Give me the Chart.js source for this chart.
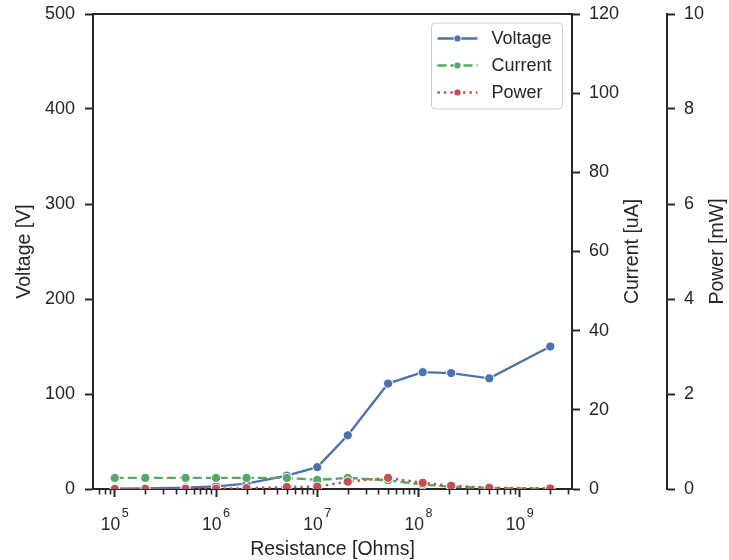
<!DOCTYPE html>
<html lang="en">
<head>
<meta charset="UTF-8">
<title>Voltage, current and power vs resistance</title>
<script src="https://cdn.jsdelivr.net/npm/chart.js"></script>
<style>
  html, body { margin: 0; padding: 0; background: #fff; }
</style>
</head>
<body>
<canvas id="myChart" width="729" height="560"></canvas>
<script>
    // values
    const resistance = [1e5, 2e5, 5e5, 1e6, 2e6, 5e6, 1e7, 2e7, 5e7, 1.1e8, 2.1e8, 5e8, 2e9];
    const voltage = [0.28, 0.56, 1.4, 2.8, 5.6, 14, 23, 56.5, 111, 123, 122, 116.5, 150];
    const current = [2.8, 2.8, 2.8, 2.8, 2.8, 2.8, 2.3, 2.8, 2.2, 1.1, 0.58, 0.23, 0.075];
    const power = [0.001, 0.002, 0.004, 0.008, 0.016, 0.04, 0.05, 0.155, 0.235, 0.13, 0.068, 0.027, 0.011];

    const xMajorTicks = [1e5, 1e6, 1e7, 1e8, 1e9];
    const xTickExponents = ['5', '6', '7', '8', '9'];
    const seriesNames = ['Voltage', 'Current', 'Power'];
    const axisTitles = ['Resistance [Ohms]', 'Voltage [V]', 'Current [uA]', 'Power [mW]'];

    const ink = '#262626';
    const colors = ['#4c72b0', '#55a868', '#c44e52'];
    const dashes = [[], [9, 4], [2.4, 4]];
    const family = '"Liberation Sans", Arial, sans-serif';
    const tickFont = { family: family, size: 18, lineHeight: 1.2 };
    const labelFont = { family: family, size: 19.5, lineHeight: 1.1 };

    function series(i, values, axis, order) {
        return {
            label: seriesNames[i],
            data: resistance.map((r, k) => ({ x: r, y: values[k] })),
            yAxisID: axis,
            order: order,
            borderColor: colors[i],
            backgroundColor: colors[i],
            borderWidth: 2.4,
            borderDash: dashes[i],
            pointRadius: 4.6,
            pointHoverRadius: 4.6,
            pointBorderColor: '#ffffff',
            pointBorderWidth: 1,
            pointBackgroundColor: colors[i],
            tension: 0
        };
    }

    function yAxis(position, min, max, step, width, weight) {
        return {
            type: 'linear',
            position: position,
            min: min,
            max: max,
            weight: weight,
            ticks: { stepSize: step, color: ink, font: tickFont, padding: position === 'left' ? 10 : 9 },
            grid: { drawOnChartArea: false, drawTicks: true, tickLength: 8, tickWidth: 2, tickColor: ink },
            border: { display: true, color: ink, width: 2 },
            afterFit: s => { s.width = width; s.paddingTop = 0; s.paddingBottom = 0; }
        };
    }

    // minor log ticks, 10^n superscript labels, top spine, right titles and legend
    const decorations = {
        id: 'decorations',
        afterDraw(chart) {
            const { ctx, chartArea: area, scales: { x } } = chart;
            ctx.save();
            ctx.strokeStyle = ink;

            // top spine
            ctx.lineWidth = 2;
            ctx.beginPath();
            ctx.moveTo(area.left - 1, area.top);
            ctx.lineTo(area.right + 1, area.top);
            ctx.stroke();

            // minor ticks
            ctx.lineWidth = 1.6;
            for (let e = 4; e <= 9; e++) {
                for (let m = 2; m <= 9; m++) {
                    const v = m * Math.pow(10, e);
                    if (v < x.min || v > x.max) continue;
                    const px = Math.round(x.getPixelForValue(v)) + 0.5;
                    ctx.beginPath();
                    ctx.moveTo(px, area.bottom);
                    ctx.lineTo(px, area.bottom + 5.5);
                    ctx.stroke();
                }
            }

            // 10^n labels
            ctx.fillStyle = ink;
            ctx.textBaseline = 'alphabetic';
            ctx.textAlign = 'left';
            const baseFont = '17.5px ' + family;
            const expFont = '12.5px ' + family;
            xMajorTicks.forEach((v, i) => {
                const px = x.getPixelForValue(v);
                ctx.font = baseFont;
                const wb = ctx.measureText('10').width;
                ctx.font = expFont;
                const we = ctx.measureText(xTickExponents[i]).width;
                const left = px - (wb + we + 1.5) / 2;
                ctx.font = baseFont;
                ctx.fillText('10', left, area.bottom + 40.5);
                ctx.font = expFont;
                ctx.fillText(xTickExponents[i], left + wb + 1.5, area.bottom + 28);
            });

            // right-hand axis titles, reading bottom to top
            ctx.font = labelFont.size + 'px ' + family;
            ctx.textAlign = 'center';
            ctx.textBaseline = 'middle';
            const midY = (area.top + area.bottom) / 2;
            [[chart.scales.yCur.right - 34, axisTitles[2]], [chart.scales.yPow.right - 11, axisTitles[3]]].forEach(([tx, text]) => {
                ctx.save();
                ctx.translate(tx, midY);
                ctx.rotate(-Math.PI / 2);
                ctx.fillText(text, 0, 0);
                ctx.restore();
            });

            // legend box
            const bx = area.right - 140.5, by = area.top + 9, bw = 131, bh = 86;
            ctx.beginPath();
            ctx.roundRect(bx, by, bw, bh, 4);
            ctx.fillStyle = 'rgba(255,255,255,0.8)';
            ctx.fill();
            ctx.strokeStyle = '#cccccc';
            ctx.lineWidth = 1;
            ctx.stroke();

            ctx.font = tickFont.size + 'px ' + family;
            ctx.textAlign = 'left';
            seriesNames.forEach((name, i) => {
                const ly = by + 15.5 + i * 27;
                const lx0 = bx + 6, lx1 = bx + 46;
                ctx.strokeStyle = colors[i];
                ctx.lineWidth = 2.4;
                ctx.setLineDash(dashes[i]);
                ctx.beginPath();
                ctx.moveTo(lx0, ly);
                ctx.lineTo(lx1, ly);
                ctx.stroke();
                ctx.setLineDash([]);
                ctx.beginPath();
                ctx.arc((lx0 + lx1) / 2, ly, 3.6, 0, Math.PI * 2);
                ctx.fillStyle = colors[i];
                ctx.fill();
                ctx.strokeStyle = '#ffffff';
                ctx.lineWidth = 0.8;
                ctx.stroke();
                ctx.fillStyle = ink;
                ctx.fillText(name, bx + 60, ly + 1);
            });
            ctx.restore();
        }
    };

    const ctx = document.getElementById('myChart').getContext('2d');
    new Chart(ctx, {
        type: 'line',
        data: {
            datasets: [
                series(0, voltage, 'y', 3),
                series(1, current, 'yCur', 2),
                series(2, power, 'yPow', 1)
            ]
        },
        options: {
            responsive: false,
            animation: false,
            layout: { padding: { top: 14, left: 0, right: 0, bottom: 0 } },
            plugins: { legend: { display: false }, tooltip: { enabled: false } },
            scales: {
                x: {
                    type: 'logarithmic',
                    position: 'bottom',
                    min: 6.09e4,
                    max: 3.28e9,
                    afterBuildTicks: s => { s.ticks = xMajorTicks.map(v => ({ value: v, major: true })); },
                    ticks: { display: false },
                    grid: { drawOnChartArea: false, drawTicks: true, tickLength: 8, tickWidth: 2, tickColor: ink },
                    border: { display: true, color: ink, width: 2 },
                    title: { display: true, text: axisTitles[0], color: ink, font: labelFont, padding: 0 },
                    afterFit: s => { s.height = 71; s.paddingLeft = 0; s.paddingRight = 0; }
                },
                y: Object.assign(yAxis('left', 0, 500, 100, 93, 0), {
                    title: { display: true, text: axisTitles[1], color: ink, font: labelFont, padding: { top: 14, bottom: 0 } }
                }),
                yCur: yAxis('right', 0, 120, 20, 95, 0),
                yPow: yAxis('right', 0, 10, 2, 62, 1)
            }
        },
        plugins: [decorations]
    });
</script>
</body>
</html>
